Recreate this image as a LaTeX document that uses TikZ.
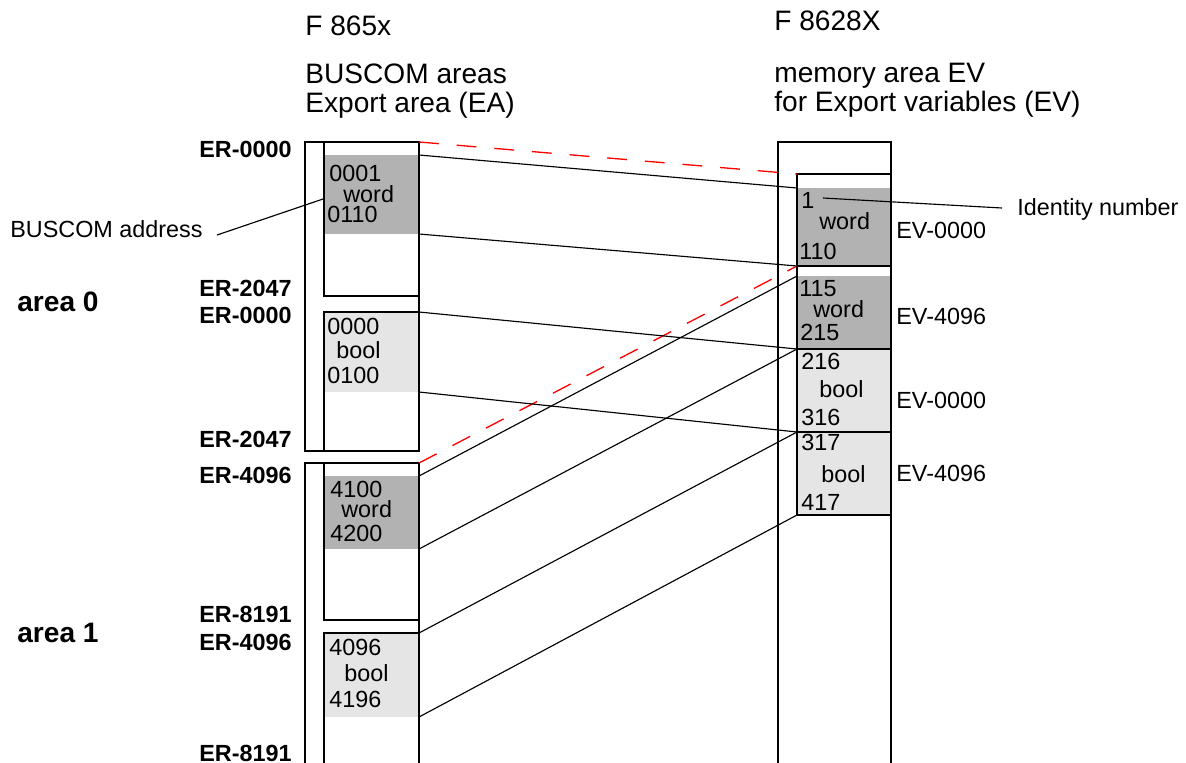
\documentclass[tikz,border=0pt]{standalone}
\usepackage{fontspec}
\setmainfont{Liberation Sans}
\usetikzlibrary{fit}
\definecolor{darkg}{RGB}{178,178,178}
\definecolor{lightg}{RGB}{229,229,229}
\newcommand\tsz{\fontsize{13.3}{15}\selectfont}
\newcommand\hsz{\fontsize{16}{19}\selectfont}
\newcommand\asz{\fontsize{16}{19}\selectfont\bfseries}
\begin{document}
\begin{tikzpicture}[x=0.02cm,y=-0.02cm,
 blk/.style={inner sep=0pt,outer sep=0pt,draw=none},
 frame/.style={blk,draw=black,line width=1.1pt},
 dk/.style={blk,fill=darkg},
 lt/.style={blk,fill=lightg},
 txt/.style={inner sep=0pt,anchor=base west,font=\tsz},
 er/.style={inner sep=0pt,anchor=base west,font=\tsz\bfseries},
 hd/.style={inner sep=0pt,anchor=base west,font=\hsz},
 ar/.style={inner sep=0pt,anchor=base west,font=\asz},
 link/.style={draw=black,line width=0.65pt},
 redlink/.style={draw=red,line width=0.75pt,dash pattern=on 11.3pt off 10.2pt},
 ]
\clip (0,0) rectangle (1186,762);
\fill[white] (0,0) rectangle (1186,762);

% grey blocks
\node[dk,fit={(324,155)(419,234)}] (lw0) {};
\node[lt,fit={(324,312)(419,392)}] (lb0) {};
\node[dk,fit={(324,476)(419,549)}] (lw1) {};
\node[lt,fit={(324,633)(419,717)}] (lb1) {};
\node[dk,fit={(797,188)(891,266)}] (rw0) {};
\node[dk,fit={(797,276)(891,349)}] (rw1) {};
\node[lt,fit={(797,349)(891,432)}] (rb0) {};
\node[lt,fit={(797,432)(891,515)}] (rb1) {};

% frames
\node[frame,fit={(305,142)(419,451)}] (a0) {};
\node[frame,fit={(324,142)(419,296)}] (a0w) {};
\node[frame,fit={(324,312)(419,451)}] (a0b) {};
\node[frame,fit={(305,463)(419,800)}] (a1) {};
\node[frame,fit={(324,463)(419,620)}] (a1w) {};
\node[frame,fit={(324,633)(419,800)}] (a1b) {};
\node[frame,fit={(778,142)(891,800)}] (ev) {};
\node[frame,fit={(797,174)(891,266)}] (c1) {};
\node[frame,fit={(797,266)(891,349)}] (c2) {};
\node[frame,fit={(797,349)(891,432)}] (c3) {};
\node[frame,fit={(797,432)(891,515)}] (c4) {};

% connectors
\draw[redlink] (a0.north east) -- (c1.north west);
\draw[redlink] (a1.north east) -- (c2.north west);
\draw[link] (lw0.north east) -- (rw0.north west);
\draw[link] (lw0.south east) -- (c1.south west);
\draw[link] (lb0.north east) -- (rb0.north west);
\draw[link] (lb0.south east) -- (rb0.south west);
\draw[link] (lw1.north east) -- (rw1.north west);
\draw[link] (lw1.south east) -- (rw1.south west);
\draw[link] (lb1.north east) -- (rb1.north west);
\draw[link] (lb1.south east) -- (rb1.south west);

% headings
\node[hd] (h1) at (305,35) {F 865x};
\node[hd] (h2) at (305,83) {BUSCOM areas};
\node[hd] (h3) at (305,112) {Export area (EA)};
\node[hd] (h4) at (774,30) {F 8628X};
\node[hd] (h5) at (774,82) {memory area EV};
\node[hd] (h6) at (774,111) {for Export variables (EV)};

% left texts
\node[txt] (l1) at (329,181) {0001};
\node[txt] (l2) at (343,202) {word};
\node[txt] (l3) at (327,222) {0110};
\node[txt] (l4) at (327,334) {0000};
\node[txt] (l5) at (336,358) {bool};
\node[txt] (l6) at (327,383) {0100};
\node[txt] (l7) at (330,497) {4100};
\node[txt] (l8) at (341,517) {word};
\node[txt] (l9) at (330,541) {4200};
\node[txt] (l10) at (329,655) {4096};
\node[txt] (l11) at (344,681) {bool};
\node[txt] (l12) at (329,707) {4196};

% right texts
\node[txt] (r1) at (801,208) {1};
\node[txt] (r2) at (819,229) {word};
\node[txt] (r3) at (799,259) {110};
\node[txt] (r4) at (799,296) {115};
\node[txt] (r5) at (813,317) {word};
\node[txt] (r6) at (800,340) {215};
\node[txt] (r7) at (801,369) {216};
\node[txt] (r8) at (819,397) {bool};
\node[txt] (r9) at (801,425) {316};
\node[txt] (r10) at (801,450) {317};
\node[txt] (r11) at (821,482) {bool};
\node[txt] (r12) at (801,510) {417};

\node[txt] (e1) at (896,238) {EV-0000};
\node[txt] (e2) at (896,324) {EV-4096};
\node[txt] (e3) at (896,408) {EV-0000};
\node[txt] (e4) at (896,481) {EV-4096};

% ER labels
\node[er] (er1) at (199,157) {ER-0000};
\node[er] (er2) at (199,296) {ER-2047};
\node[er] (er3) at (199,323) {ER-0000};
\node[er] (er4) at (199,447) {ER-2047};
\node[er] (er5) at (199,483) {ER-4096};
\node[er] (er6) at (199,622) {ER-8191};
\node[er] (er7) at (199,650) {ER-4096};
\node[er] (er8) at (199,761) {ER-8191};

\node[ar] (ar0) at (17,311) {area 0};
\node[ar] (ar1) at (17,642) {area 1};

% annotations
\node[txt] (ba) at (10,237) {BUSCOM address};
\coordinate (bal) at (217,235);
\coordinate (bar) at (323,199);
\draw[link] (bal) -- (bar);
\node[txt] (idn) at (1017,215) {Identity number};
\coordinate (idp) at (823,198);
\coordinate (idq) at (1002,208);
\draw[link] (idp) -- (idq);
\end{tikzpicture}
\end{document}
